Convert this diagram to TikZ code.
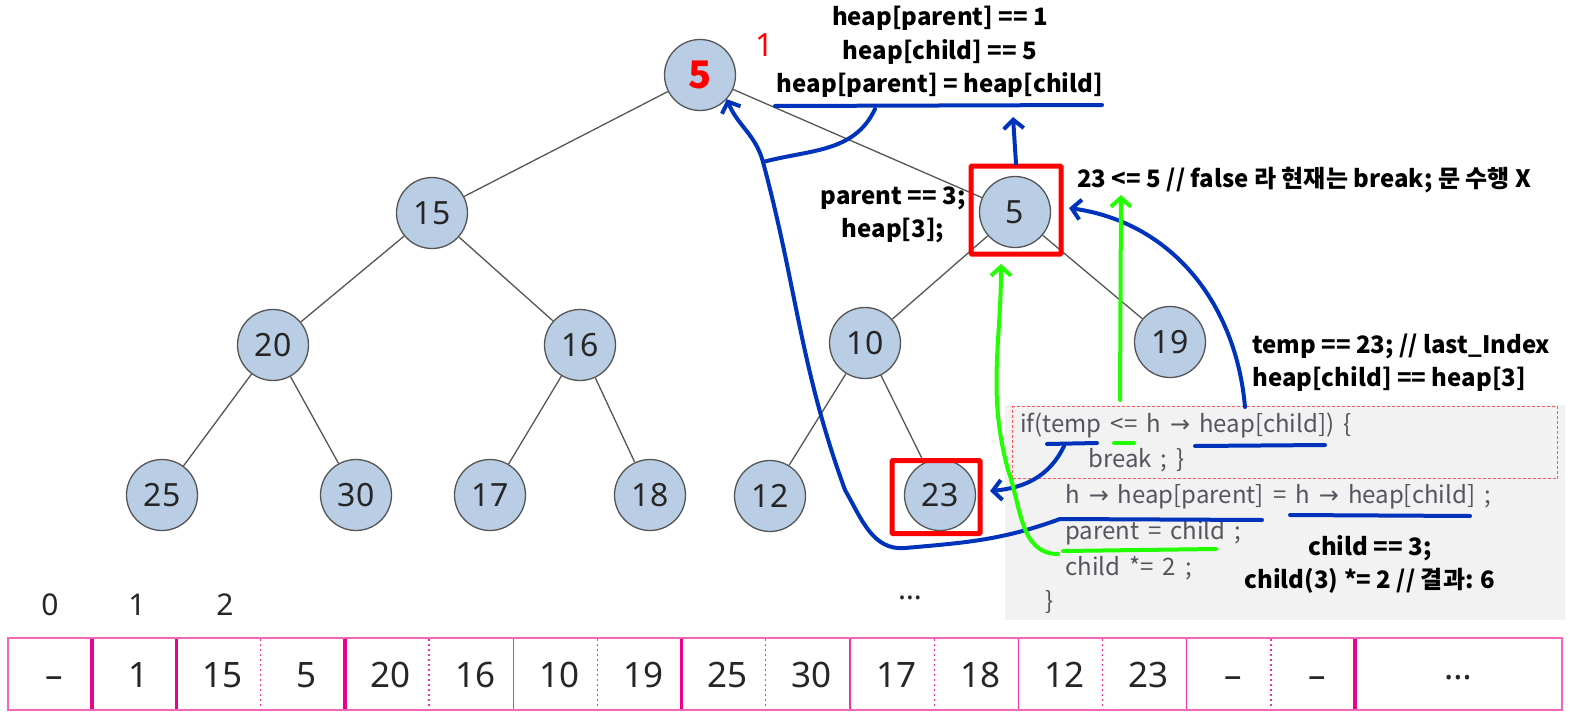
\documentclass[tikz,border=0pt]{standalone}
\usepackage{fontspec}
\setmainfont{Noto Sans}
\newfontfamily\krfont{Noto Sans CJK KR}
\newfontfamily\arrfont{DejaVu Sans}
\newcommand{\harr}{{\arrfont →}}
\newcommand{\codefont}{\krfont\fontsize{24}{26}\selectfont\spaceskip 9pt\relax}
\usepackage{xcolor}
\usetikzlibrary{arrows.meta,positioning,calc}
\definecolor{nodefill}{HTML}{B9CDE5}
\definecolor{edgegray}{HTML}{555555}
\definecolor{penblue}{HTML}{0033BB}
\definecolor{pengreen}{HTML}{22FF00}
\definecolor{penred}{HTML}{FF0000}
\definecolor{codegray}{HTML}{55555F}
\definecolor{codebg}{HTML}{F2F2F2}
\definecolor{arrpink}{HTML}{EC008C}

\begin{document}
\begin{tikzpicture}[x=1pt, y=-1pt,
  every node/.style={inner sep=0pt},
  hnode/.style={circle, draw=edgegray, fill=nodefill, line width=1.3pt,
                minimum size=71pt, font=\fontsize{32}{34}\selectfont, text=black!85},
  tedge/.style={draw=edgegray, line width=1.3pt},
  note/.style={font=\krfont\bfseries\fontsize{24}{33}\selectfont, align=center},
  code/.style={anchor=west, text=codegray, font=\codefont},
  redbox/.style={draw=penred, line width=5pt, rounded corners=1pt},
  bluepen/.style={draw=penblue, line width=4pt, line cap=round},
  bluearr/.style={bluepen, -{Straight Barb[length=9pt,width=20pt]}},
  greenpen/.style={draw=pengreen, line width=4pt, line cap=round},
  greenarr/.style={greenpen, -{Straight Barb[length=9pt,width=20pt]}},
  cell/.style={font=\fontsize{35}{37}\selectfont, text=black!85, text height=25pt, text depth=0pt},
  idx/.style={font=\fontsize{30}{32}\selectfont, text=black!85},
  sepbold/.style={draw=arrpink, line width=3.5pt},
  septhin/.style={draw=arrpink!80, line width=1.2pt},
  sepdot/.style={draw=arrpink!80, line width=1.2pt, dash pattern=on 2pt off 3pt}
]
  \useasboundingbox (0,0) rectangle (1570,717);

  % code panel
  \node[fill=codebg, minimum width=560pt, minimum height=215pt, anchor=north west] (codebg) at (1005,405) {};
  \node[draw=red!65, line width=1pt, dash pattern=on 3pt off 2pt, minimum width=545pt,
        minimum height=72pt, anchor=north west] (ifbox) at (1012,406) {};
  \node[code] (cl1) at (1020,425) {if(temp <= h \harr{} heap[child]) \{};
  \node[code] (cl2) at (1088,460) {break ; \}};
  \node[code] (cl3) at (1065,497) {h \harr{} heap[parent] = h \harr{} heap[child] ;};
  \node[code] (cl4) at (1065,533) {parent = child ;};
  \node[code] (cl5) at (1065,568) {child *= 2 ;};
  \node[code] (cl6) at (1045,602) {\}};

  % heap tree
  \node[hnode, font=\krfont\bfseries\fontsize{38}{38}\selectfont, text=penred] (n1) at (700,75) {5};
  \node[hnode] (n2) at (432,213) {15};
  \node[hnode] (n3) at (1015,212) {5};
  \node[hnode] (n4) at (273,345) {20};
  \node[hnode] (n5) at (580,345) {16};
  \node[hnode] (n6) at (865,343) {10};
  \node[hnode] (n7) at (1170,342) {19};
  \node[hnode] (n8) at (162,495) {25};
  \node[hnode] (n9) at (356,495) {30};
  \node[hnode] (n10) at (490,495) {17};
  \node[hnode] (n11) at (650,495) {18};
  \node[hnode] (n12) at (770,496) {12};
  \node[hnode] (n13) at (940,495) {23};

  \draw[tedge] (n1) -- (n2);
  \draw[tedge] (n1) -- (n3);
  \draw[tedge] (n2) -- (n4);
  \draw[tedge] (n2) -- (n5);
  \draw[tedge] (n3) -- (n6);
  \draw[tedge] (n3) -- (n7);
  \draw[tedge] (n4) -- (n8);
  \draw[tedge] (n4) -- (n9);
  \draw[tedge] (n5) -- (n10);
  \draw[tedge] (n5) -- (n11);
  \draw[tedge] (n6) -- (n12);
  \draw[tedge] (n6) -- (n13);

  \node[text=penred, font=\fontsize{32}{34}\selectfont] (idx1) at (765,45) {1};

  % red marks
  \node[redbox, minimum width=90pt, minimum height=88pt] (box3) at (1016,210) {};
  \node[redbox, minimum width=88pt, minimum height=73pt] (box23) at (936,497) {};

  % notes
  \node[note] (tl1) at (940,18) {heap[parent] == 1};
  \node[note] (tl2) at (940,52) {heap[child] == 5};
  \node[note] (tl3) at (940,85) {heap[parent] = heap[child]};
  \node[note] (parNote) at (893,215) {parent == 3;\\heap[3];};
  \node[note, anchor=west] (cmpNote) at (1077,180) {23 <= 5 // false 라 현재는 break; 문 수행 X};
  \node[note, align=left, anchor=west] (tempNote) at (1252,363) {temp == 23; // last\_Index\\heap[child] == heap[3]};
  \node[note] (childNote) at (1370,564) {child == 3;\\child(3) *= 2 // 결과: 6};

  % blue strokes
  \coordinate (ulTopL) at (775,106);
  \coordinate (ulTopR) at (1102,105);
  \coordinate (ulTopA) at (875,109);
  \coordinate (ulTopM) at (1013,117);
  \coordinate (joinA) at (763,162);
  \draw[bluepen] (ulTopL) -- (ulTopR);
  \draw[bluearr] (box3.north) -- (ulTopM);
  \draw[bluepen] (ulTopA) to[out=-115,in=15] (joinA);

  \coordinate (ulParL) at (1060,519);
  \coordinate (ulParR) at (1262,520);
  \coordinate (ulChdL) at (1290,515);
  \coordinate (ulChdR) at (1470,516);
  \draw[bluepen] (ulParL) -- (ulParR);
  \draw[bluepen] (ulChdL) -- (ulChdR);
  \draw[bluearr] (ulParL) to[out=200,in=5] (905,548) to[out=185,in=-60] (845,490)
    to[out=110,in=-75] (joinA) to[out=105,in=-68] (n1.-42);

  \coordinate (ifHc) at (1245,407);
  \coordinate (tip3) at (1069,208);
  \draw[bluearr] (ifHc) to[out=95,in=-8] (tip3);

  \coordinate (ulTempL) at (1047,444);
  \coordinate (ulTempR) at (1097,443);
  \coordinate (ulTempA) at (1064,446);
  \coordinate (ulIfHL) at (1195,446);
  \coordinate (ulIfHR) at (1325,445);
  \coordinate (tip23) at (990,491);
  \draw[bluepen] (ulTempL) -- (ulTempR);
  \draw[bluepen] (ulIfHL) -- (ulIfHR);
  \draw[bluearr] (ulTempA) to[out=-115,in=5] (tip23);

  % green strokes
  \coordinate (gLeL) at (1114,443);
  \coordinate (gLeR) at (1134,443);
  \coordinate (gUpA) at (1120,400);
  \coordinate (gUpB) at (1121,195);
  \draw[greenpen] (gLeL) -- (gLeR);
  \draw[greenarr] (gUpA) -- (gUpB);

  \coordinate (ulPcL) at (1063,551);
  \coordinate (ulPcR) at (1216,549);
  \coordinate (gPcA) at (1058,554);
  \coordinate (gTip3) at (1001,264);
  \draw[greenpen] (ulPcL) -- (ulPcR);
  \draw[greenarr] (gPcA) to[out=180,in=-70] (1008,470) to[out=105,in=-90] (gTip3);

  % array
  \node[idx] (ix0) at (50,605) {0};
  \node[idx] (ix1) at (137,605) {1};
  \node[idx] (ix2) at (225,605) {2};
  \node[idx] (ixdots) at (910,598) {…};

  \foreach \v [count=\i from 0] in {–,1,15,5,20,16,10,19,25,30,17,18,12,23,–,–}
    \node[cell] (c\i) at ({12+84.2*(\i+0.5)},675) {\v};
  \node[cell] (c16) at (1458,675) {\raisebox{8pt}{…}};

  \draw[draw=arrpink!60, line width=2pt] (8,638) rectangle (1562,710);
  \foreach \b/\s in {1/sepbold,2/sepbold,3/sepdot,4/sepbold,5/sepdot,6/septhin,7/sepdot,8/sepbold,
                     9/sepdot,10/septhin,11/sepdot,12/septhin,13/sepdot,14/septhin,15/sepdot,16/sepbold}
    \draw[\s] ({8+84.2*\b},639) -- ({8+84.2*\b},709);
\end{tikzpicture}
\end{document}
